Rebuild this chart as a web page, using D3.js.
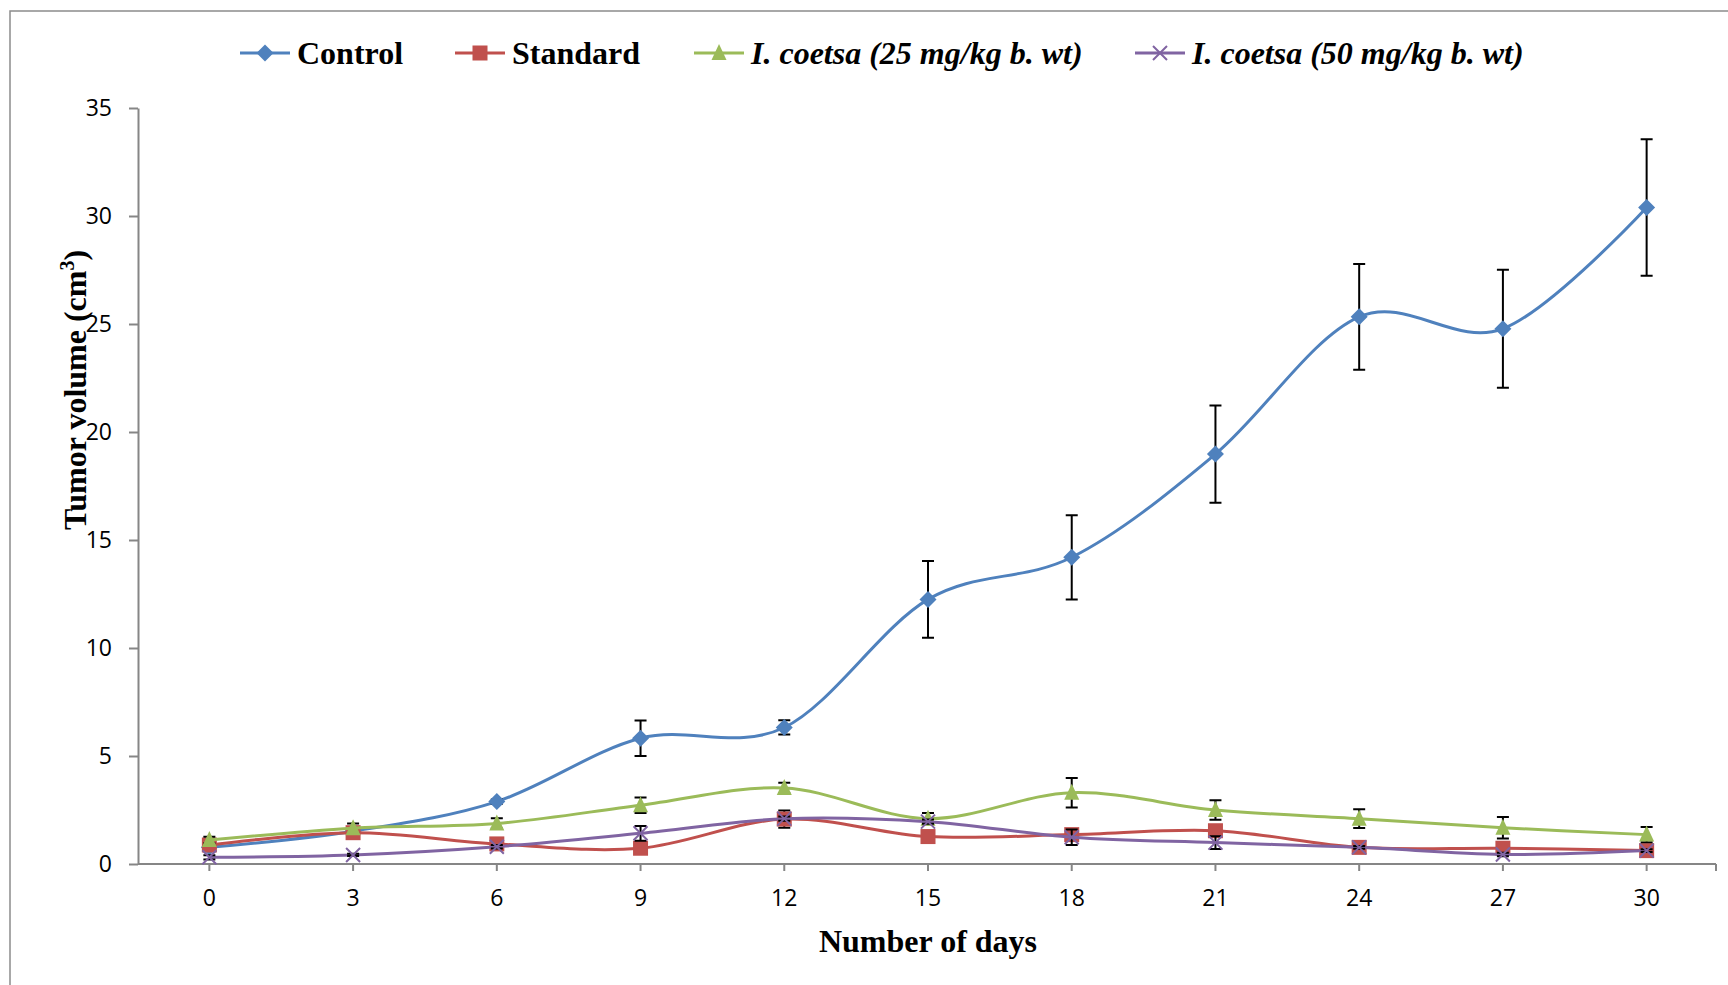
<!DOCTYPE html>
<html>
<head>
<meta charset="utf-8">
<script src="https://cdn.jsdelivr.net/npm/d3@7"></script>
<style>
  html, body { margin: 0; padding: 0; background: #fff; }
  svg { display: block; }
</style>
</head>
<body>
<svg id="chart" width="1728" height="985"></svg>
<script>
// Tumor volume (cm3) over days, mean ± SE per treatment group
const days = [0, 3, 6, 9, 12, 15, 18, 21, 24, 27, 30];
const yTicks = [0, 5, 10, 15, 20, 25, 30, 35];

const controlValues  = [0.77, 1.52, 2.89, 5.82, 6.32, 12.25, 14.2, 18.98, 25.33, 24.78, 30.39];
const controlErrors  = [0.12, 0.15, 0.10, 0.82, 0.33, 1.78, 1.95, 2.25, 2.45, 2.73, 3.16];

const standardValues = [0.88, 1.45, 0.93, 0.73, 2.08, 1.27, 1.36, 1.54, 0.77, 0.73, 0.62];
const standardErrors = [0.15, 0.12, 0.10, 0.10, 0.40, 0.10, 0.12, 0.15, 0.08, 0.08, 0.06];

const coetsa25Values = [1.11, 1.66, 1.88, 2.72, 3.52, 2.10, 3.30, 2.50, 2.10, 1.68, 1.36];
const coetsa25Errors = [0.15, 0.22, 0.24, 0.36, 0.24, 0.26, 0.68, 0.45, 0.43, 0.50, 0.35];

const coetsa50Values = [0.31, 0.42, 0.80, 1.42, 2.10, 1.96, 1.24, 0.99, 0.77, 0.44, 0.62];
const coetsa50Errors = [0.10, 0.05, 0.08, 0.34, 0.10, 0.10, 0.36, 0.30, 0.06, 0.08, 0.06];

const seriesNames = ["Control", "Standard", "I. coetsa (25 mg/kg b. wt)", "I. coetsa (50 mg/kg b. wt)"];
const seriesColors = ["#4F81BD", "#C0504D", "#9BBB59", "#8064A2"];
const seriesMarkers = ["diamond", "square", "triangle", "cross"];

const series = [
  { name: seriesNames[0], values: controlValues,  errors: controlErrors,  color: seriesColors[0], marker: seriesMarkers[0], italic: false },
  { name: seriesNames[1], values: standardValues, errors: standardErrors, color: seriesColors[1], marker: seriesMarkers[1], italic: false },
  { name: seriesNames[2], values: coetsa25Values, errors: coetsa25Errors, color: seriesColors[2], marker: seriesMarkers[2], italic: true },
  { name: seriesNames[3], values: coetsa50Values, errors: coetsa50Errors, color: seriesColors[3], marker: seriesMarkers[3], italic: true }
];

const svg = d3.select("#chart");
const plot = { left: 138, right: 1716, top: 108, bottom: 864 };
const axisColor = "#868686";
const serif = "'Liberation Serif', 'Times New Roman', serif";
const sans = "'Open Sans', 'Liberation Sans', sans-serif";

// outer chart frame
svg.append("rect")
  .attr("x", 10).attr("y", 11)
  .attr("width", 1740).attr("height", 1000)
  .attr("fill", "none").attr("stroke", "#8c8c8c").attr("stroke-width", 1.5);

const x = d3.scaleBand().domain(days).range([137.5, 1718.5]).padding(0);
const cx = d => x(d) + x.bandwidth() / 2;
const y = d3.scaleLinear().domain([0, 35]).range([plot.bottom, plot.top]);

// y axis
const yAxis = svg.append("g")
  .attr("transform", `translate(${plot.left},0)`)
  .call(d3.axisLeft(y).tickValues(yTicks).tickSize(9).tickPadding(17).tickSizeOuter(0));
yAxis.select(".domain").attr("stroke", axisColor).attr("stroke-width", 2);
yAxis.selectAll(".tick line").attr("stroke", axisColor).attr("stroke-width", 2);
yAxis.selectAll(".tick text")
  .attr("font-family", sans).attr("font-size", 23).attr("fill", "#000");

// x axis (category ticks at band centres)
const xAxis = svg.append("g")
  .attr("transform", `translate(0,${plot.bottom})`)
  .call(d3.axisBottom(x).tickSize(7).tickPadding(19).tickSizeOuter(0));
xAxis.select(".domain")
  .attr("d", `M${plot.left},0H${plot.right}`)
  .attr("stroke", axisColor).attr("stroke-width", 2);
xAxis.selectAll(".tick line").attr("stroke", axisColor).attr("stroke-width", 2);
xAxis.selectAll(".tick text")
  .attr("font-family", sans).attr("font-size", 23).attr("fill", "#000");
xAxis.append("line")
  .attr("x1", plot.right).attr("x2", plot.right)
  .attr("y1", 0).attr("y2", 7)
  .attr("stroke", axisColor).attr("stroke-width", 2);

// axis titles
svg.append("text")
  .attr("x", 928).attr("y", 952)
  .attr("text-anchor", "middle")
  .attr("font-family", serif).attr("font-weight", "bold").attr("font-size", 32)
  .text("Number of days");

const yTitle = svg.append("text")
  .attr("transform", "translate(86,390) rotate(-90)")
  .attr("text-anchor", "middle")
  .attr("font-family", serif).attr("font-weight", "bold").attr("font-size", 32);
yTitle.append("tspan").text("Tumor volume (cm");
yTitle.append("tspan").attr("font-size", 20).attr("dy", -12).text("3");
yTitle.append("tspan").attr("dy", 12).text(")");

// marker shapes
function drawMarker(g, type, color, px, py) {
  if (type === "diamond") {
    const r = 8.5;
    g.append("path").attr("d", `M${px},${py - r}L${px + r},${py}L${px},${py + r}L${px - r},${py}Z`).attr("fill", color);
  } else if (type === "square") {
    const s = 7.5;
    g.append("rect").attr("x", px - s).attr("y", py - s).attr("width", 2 * s).attr("height", 2 * s).attr("fill", color);
  } else if (type === "triangle") {
    const s = 7.5;
    g.append("path").attr("d", `M${px},${py - 9}L${px + s},${py + 7}L${px - s},${py + 7}Z`).attr("fill", color);
  } else {
    const s = 7;
    g.append("path").attr("d", `M${px - s},${py - s}L${px + s},${py + s}M${px - s},${py + s}L${px + s},${py - s}`)
      .attr("stroke", color).attr("stroke-width", 2).attr("fill", "none");
  }
}

const line = d3.line()
  .x((d, i) => cx(days[i]))
  .y(d => y(d))
  .curve(d3.curveCardinal.tension(0));

series.forEach(s => {
  const g = svg.append("g");
  g.append("path")
    .attr("d", line(s.values))
    .attr("fill", "none").attr("stroke", s.color).attr("stroke-width", 3);

  // error bars
  const cap = 6;
  s.values.forEach((v, i) => {
    const px = cx(days[i]);
    const e = s.errors[i];
    g.append("path")
      .attr("d", `M${px},${y(v + e)}L${px},${y(v - e)}M${px - cap},${y(v + e)}L${px + cap},${y(v + e)}M${px - cap},${y(v - e)}L${px + cap},${y(v - e)}`)
      .attr("stroke", "#000").attr("stroke-width", 2).attr("fill", "none");
  });

  s.values.forEach((v, i) => drawMarker(g, s.marker, s.color, cx(days[i]), y(v)));
});

// legend
const legendX = [240, 455, 694, 1135];
const legendY = 53;
series.forEach((s, i) => {
  const g = svg.append("g");
  const x0 = legendX[i];
  g.append("line")
    .attr("x1", x0).attr("x2", x0 + 50)
    .attr("y1", legendY).attr("y2", legendY)
    .attr("stroke", s.color).attr("stroke-width", 3);
  drawMarker(g, s.marker, s.color, x0 + 25, legendY);
  g.append("text")
    .attr("x", x0 + 57).attr("y", legendY + 11)
    .attr("font-family", serif).attr("font-weight", "bold").attr("font-size", 32)
    .attr("font-style", s.italic ? "italic" : "normal")
    .text(s.name);
});
</script>
</body>
</html>
